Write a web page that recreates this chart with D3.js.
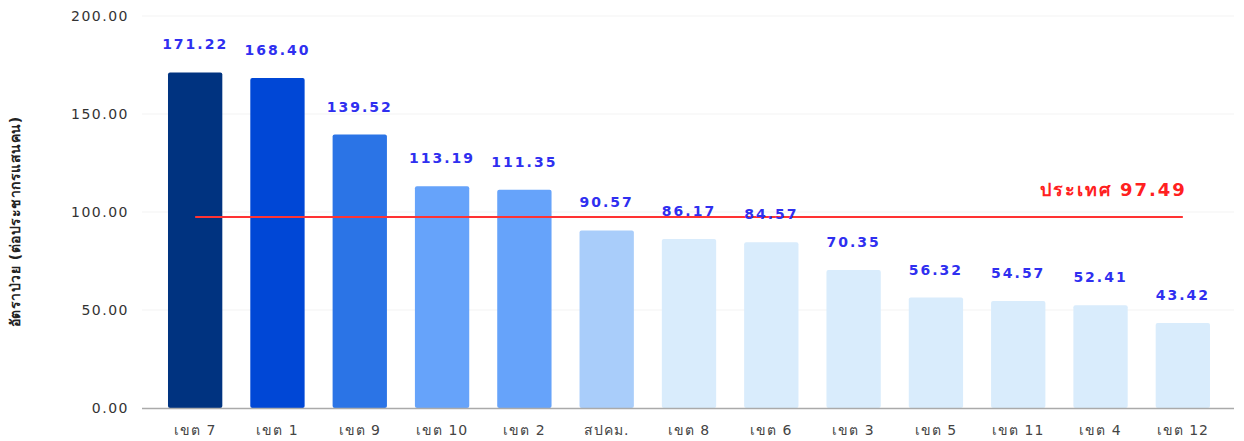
<!DOCTYPE html>
<html>
<head>
<meta charset="utf-8">
<script src="https://cdn.jsdelivr.net/npm/d3@7"></script>
<style>
  body { margin: 0; background: #fff; }
  svg text { font-family: "DejaVu Sans", Tahoma, sans-serif; }
</style>
</head>
<body>
<svg id="chart" width="1244" height="441"></svg>
<script>
const regions = ["เขต 7", "เขต 1", "เขต 9", "เขต 10", "เขต 2", "สปคม.", "เขต 8", "เขต 6", "เขต 3", "เขต 5", "เขต 11", "เขต 4", "เขต 12"];
const rates = [171.22, 168.40, 139.52, 113.19, 111.35, 90.57, 86.17, 84.57, 70.35, 56.32, 54.57, 52.41, 43.42];
const barColors = ["#003380", "#0047d6", "#2b74e6", "#66a3fa", "#66a3fa", "#a9cdfa",
  "#d9ecfc", "#d9ecfc", "#d9ecfc", "#d9ecfc", "#d9ecfc", "#d9ecfc", "#d9ecfc"];
const yTicks = [0, 50, 100, 150, 200];
const countryRate = 97.49;
const countryLabel = "ประเทศ";
const yTitle = "อัตราป่วย (ต่อประชากรแสนคน)";

const svg = d3.select("#chart");
const x = d3.scaleBand().domain(regions).range([154, 1224]).paddingInner(0.34).paddingOuter(0.17);
const y = d3.scaleLinear().domain([0, 200]).range([408, 16]);

// faint gridlines
svg.append("g").selectAll("line").data(yTicks.slice(1)).join("line")
  .attr("x1", 142).attr("x2", 1234)
  .attr("y1", d => y(d)).attr("y2", d => y(d))
  .attr("stroke", "#f3f3f3");

// y tick labels
svg.append("g").selectAll("text").data(yTicks).join("text")
  .attr("x", 129).attr("y", d => y(d) + 5)
  .attr("text-anchor", "end")
  .style("font-size", "14px").style("fill", "#333").style("letter-spacing", "1.5px")
  .text(d => d3.format(".2f")(d));

svg.append("text")
  .attr("transform", `translate(20,${y(95)}) rotate(-90)`)
  .attr("text-anchor", "middle")
  .style("font-size", "14px").style("font-weight", "700").style("fill", "#222")
  .style("letter-spacing", "0.5px")
  .text(yTitle);

// bars
svg.append("g").selectAll("rect").data(rates).join("rect")
  .attr("x", (d, i) => x(regions[i]))
  .attr("width", x.bandwidth())
  .attr("y", d => y(d))
  .attr("height", d => y(0) - y(d))
  .attr("rx", 2)
  .attr("fill", (d, i) => barColors[i]);

// baseline
svg.append("line")
  .attr("x1", 142).attr("x2", 1234)
  .attr("y1", y(0) + 0.5).attr("y2", y(0) + 0.5)
  .attr("stroke", "#aaa").attr("stroke-width", 1.5);

// x labels
svg.append("g").selectAll("text").data(regions).join("text")
  .attr("x", d => x(d) + x.bandwidth() / 2).attr("y", 435)
  .attr("text-anchor", "middle")
  .style("font-size", "14px").style("fill", "#444").style("letter-spacing", "1px")
  .text(d => d);

// country average line
const cx0 = x(regions[0]) + x.bandwidth() / 2;
const cx1 = x(regions[regions.length - 1]) + x.bandwidth() / 2;
svg.append("line")
  .attr("x1", cx0).attr("x2", cx1)
  .attr("y1", y(countryRate)).attr("y2", y(countryRate))
  .attr("stroke", "#ff3333").attr("stroke-width", 2);

svg.append("text")
  .attr("x", cx1 + 4).attr("y", y(countryRate) - 21)
  .attr("text-anchor", "end")
  .style("font-size", "18px").style("font-weight", "700").style("fill", "#ff2020")
  .style("letter-spacing", "2px")
  .text(`${countryLabel} ${d3.format(".2f")(countryRate)}`);

// value labels
svg.append("g").selectAll("text").data(rates).join("text")
  .attr("x", (d, i) => x(regions[i]) + x.bandwidth() / 2)
  .attr("y", d => y(d) - 23)
  .attr("text-anchor", "middle")
  .style("font-size", "14px").style("font-weight", "700").style("fill", "#2f2ff0")
  .style("letter-spacing", "2px")
  .text(d => d3.format(".2f")(d));
</script>
</body>
</html>
